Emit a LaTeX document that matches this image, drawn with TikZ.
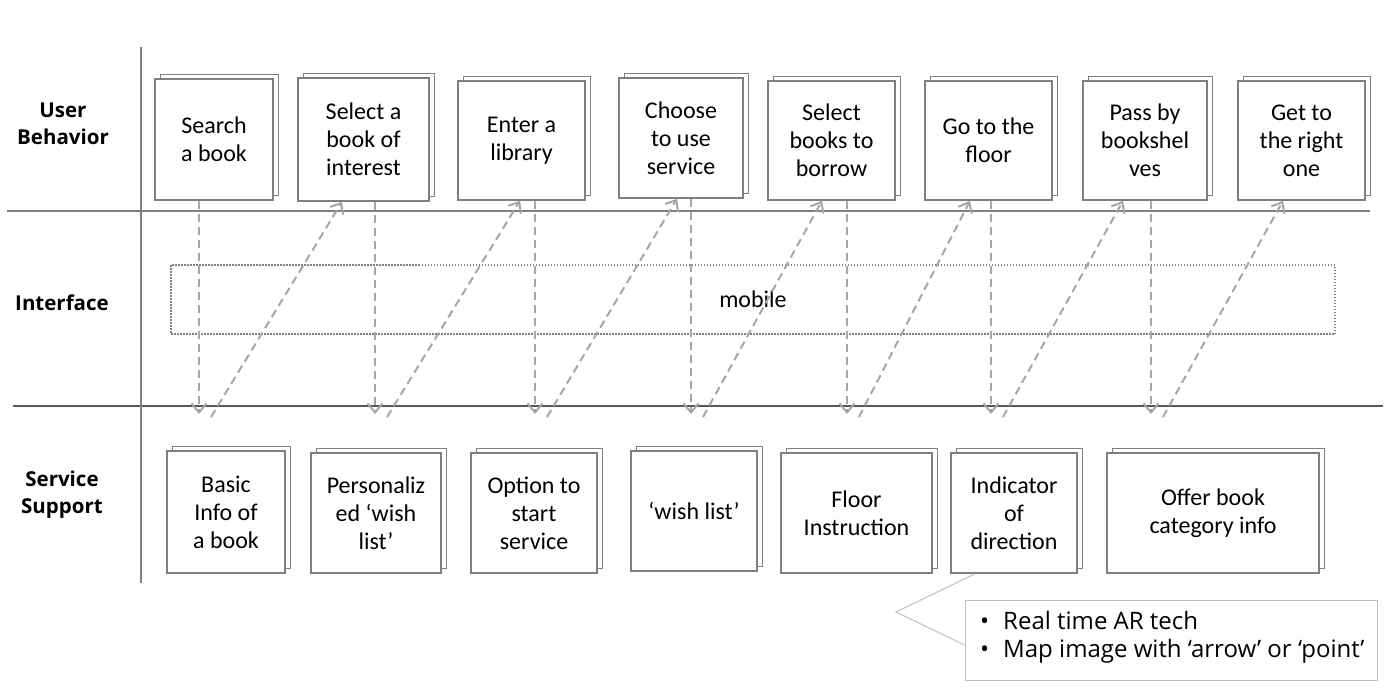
\documentclass[tikz,border=0pt]{standalone}
\usepackage{fontspec}
\setmainfont{Carlito}
\newfontfamily\labfont{Open Sans}
\usetikzlibrary{arrows.meta,shadows}
\definecolor{boxgray}{HTML}{7F7F7F}
\definecolor{arrgray}{HTML}{A6A6A6}
\definecolor{callgray}{HTML}{BFBFBF}
\definecolor{linedark}{HTML}{595959}
\begin{document}
\begin{tikzpicture}[x=1pt,y=-1pt,
  card/.style={draw=boxgray, line width=1.5pt, fill=white, inner sep=0pt, align=center,
    font=\fontsize{24}{28}\selectfont,
    copy shadow={shadow xshift=5.5pt, shadow yshift=4.5pt, draw=boxgray, fill=white, line width=1.5pt}},
  lab/.style={align=center, inner sep=0pt, font=\labfont\bfseries\fontsize{20.5}{27}\selectfont},
  darr/.style={draw=arrgray, line width=2pt, dash pattern=on 8pt off 5pt,
    -{Straight Barb[length=9pt,width=15pt,line width=2pt]}},
]
\useasboundingbox (0,0) rectangle (1388,696);

% lane lines
\draw[boxgray, line width=2pt] (7,211) -- (1370,211);
\draw[linedark, line width=1.3pt] (13,406) -- (1383,406);
\draw[boxgray, line width=2pt] (141,47) -- (141,583);

% lane labels
\node[lab] (lub) at (63,123.5) {User\\Behavior};
\node[lab] (lif) at (62,303) {Interface};
\node[lab] (lss) at (62,494.5) {Service\\Support};

% interface box
\node[draw=boxgray, line width=1.2pt, dash pattern=on 1.5pt off 1.5pt, minimum width=1164pt, minimum height=69pt,
  inner sep=0pt, font=\fontsize{24}{28}\selectfont] (mob) at (753,299.5) {mobile};

% user behavior boxes
\node[card, minimum width=118pt, minimum height=121pt] (t1) at (214,139.5) {Search\\a book};
\node[card, minimum width=131pt, minimum height=123pt] (t2) at (363.5,139.5) {Select a\\book of\\interest};
\node[card, minimum width=127pt, minimum height=119pt] (t3) at (521.5,140.5) {Enter a\\library};
\node[card, minimum width=124pt, minimum height=120pt] (t4) at (681,138) {Choose\\to use\\service};
\node[card, minimum width=127pt, minimum height=119pt] (t5) at (831.5,140.5) {Select\\books to\\borrow};
\node[card, minimum width=127pt, minimum height=119pt] (t6) at (988.5,140.5) {Go to the\\floor};
\node[card, minimum width=124pt, minimum height=119pt] (t7) at (1145,140.5) {Pass by\\bookshel\\ves};
\node[card, minimum width=127pt, minimum height=119pt] (t8) at (1301.5,140.5) {Get to\\the right\\one};

% service support boxes
\node[card, minimum width=118pt, minimum height=122pt] (b1) at (226,512) {Basic\\Info of\\a book};
\node[card, minimum width=130pt, minimum height=120pt] (b2) at (376,513) {Personaliz\\ed ‘wish\\list’};
\node[card, minimum width=126pt, minimum height=120pt] (b3) at (534,513) {Option to\\start\\service};
\node[card, minimum width=126pt, minimum height=120pt] (b4) at (694,511) {‘wish list’};
\node[card, minimum width=151pt, minimum height=120pt] (b5) at (856.5,513) {Floor\\Instruction};
\node[card, minimum width=126pt, minimum height=120pt] (b6) at (1014,513) {Indicator\\of\\direction};
\node[card, minimum width=212pt, minimum height=120pt] (b7) at (1213,513) {Offer book\\category info};

% down arrows
\foreach \i/\x in {1/199,2/375,3/535,4/691,5/847,6/991,7/1151}{
  \coordinate (d\i) at (\x,414);
  \draw[darr] (d\i |- t\i.south) -- (d\i);
}
% up arrows
\foreach \i/\xs/\j/\xe in {1/211/2/342,2/387/3/520,3/547/4/677,4/703/5/822,5/859/6/970,6/1003/7/1123,7/1163/8/1283}{
  \coordinate (u\i) at (\xs,417);
  \coordinate (e\j) at (\xe,0);
  \draw[darr] (u\i) -- (e\j |- t\j.south);
}

% callout
\node[draw=callgray, line width=1pt, minimum width=412pt, minimum height=80pt, inner sep=0pt] (co) at (1171,640) {};
\node[anchor=west, align=left, inner sep=0pt, font=\labfont\fontsize{24}{28}\selectfont] (cot) at (980,637)
  {•\hspace{14pt}Real time AR tech\\•\hspace{14pt}Map image with ‘arrow’ or ‘point’};
\coordinate (pa) at (975,0);
\coordinate (cp) at (896,612);
\coordinate (pb) at (0,645);
\draw[callgray, line width=1pt] (b6.south -| pa) -- (cp) -- (co.west |- pb);
\end{tikzpicture}
\end{document}
